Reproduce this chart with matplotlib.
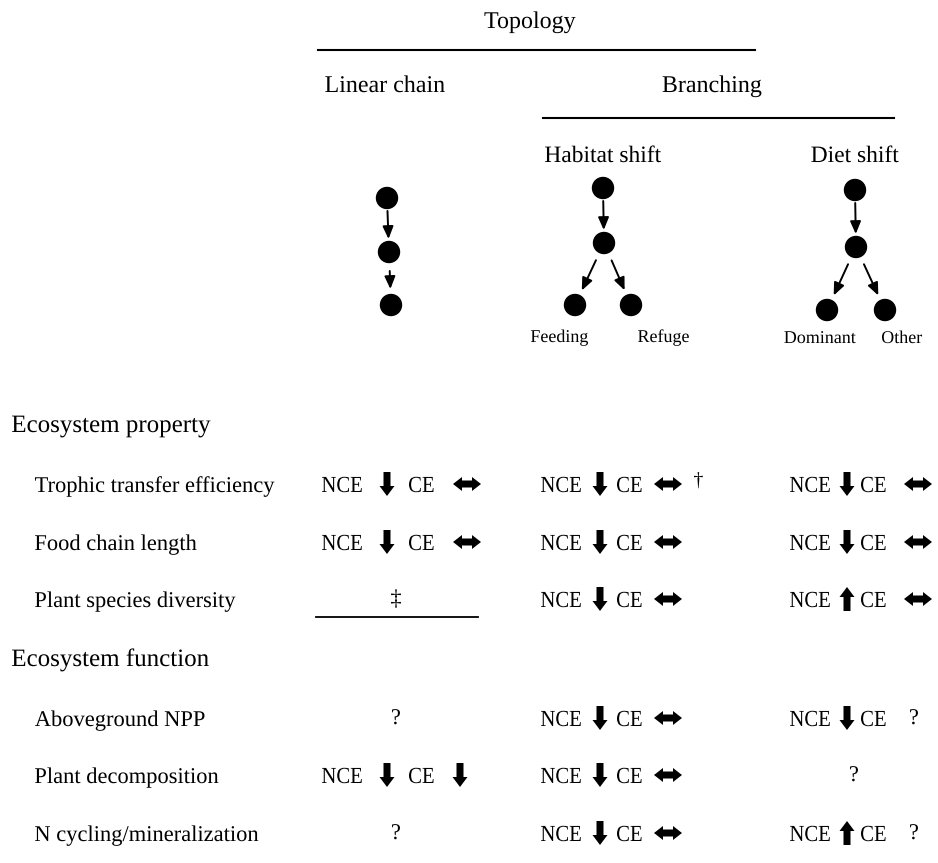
import numpy as np
import matplotlib.pyplot as plt
from matplotlib.patches import Circle, Polygon, PathPatch
from matplotlib.textpath import TextPath
from matplotlib.font_manager import FontProperties
from matplotlib.transforms import Affine2D

# Linhas da tabela
groups = ["Ecosystem property", "Ecosystem function"]
rows = ["Trophic transfer efficiency", "Food chain length", "Plant species diversity",
        "Aboveground NPP", "Plant decomposition", "N cycling/mineralization"]

# Efeitos por coluna: "NCE|CE|nota", ou símbolo isolado
linear_chain = ["down|both", "down|both", "‡", "?", "down|down", "?"]
habitat_shift = ["down|both|†", "down|both", "down|both", "down|both", "down|both", "down|both"]
diet_shift = ["down|both", "down|both", "up|both", "down|?", "?", "up|?"]

W, H = 938, 863
fig = plt.figure(figsize=(W / 100, H / 100), dpi=100)
ax = fig.add_axes([0, 0, 1, 1])
ax.set_xlim(0, W)
ax.set_ylim(H, 0)
ax.axis('off')

fp = FontProperties(family='Liberation Serif')


def txt(x, y, s, size=22.5, sx=1.0, ha='left'):
    # texto desenhado como contorno; y é a linha de base (pixels)
    p = TextPath((0, 0), s, size=size, prop=fp)
    bb = p.get_extents()
    w = (bb.x1 - bb.x0) * sx
    x0 = {'left': x, 'center': x - w / 2, 'right': x - w}[ha] - bb.x0 * sx
    p = Affine2D().scale(sx, -1).translate(x0, y).transform_path(p)
    ax.add_patch(PathPatch(p, color='black', lw=0))


def block_arrow(x, y, kind):
    if kind == 'both':
        h, w, hw, hl = 14, 7, 14, 9
        pts = [(x - h, y), (x - h + hl, y - hw / 2), (x - h + hl, y - w / 2),
               (x + h - hl, y - w / 2), (x + h - hl, y - hw / 2), (x + h, y),
               (x + h - hl, y + hw / 2), (x + h - hl, y + w / 2),
               (x - h + hl, y + w / 2), (x - h + hl, y + hw / 2)]
    else:
        h, w, hw, hl = 12, 7, 15, 10
        s = 1 if kind == 'down' else -1
        pts = [(x - w / 2, y - s * h), (x + w / 2, y - s * h),
               (x + w / 2, y + s * (h - hl)), (x + hw / 2, y + s * (h - hl)),
               (x, y + s * h), (x - hw / 2, y + s * (h - hl)),
               (x - w / 2, y + s * (h - hl))]
    ax.add_patch(Polygon(pts, closed=True, color='black', lw=0))


# Cabeçalhos
hs = 24
txt(530, 28, "Topology", hs, ha='center')
ax.plot([318, 755], [50, 50], color='black', lw=1.5)
txt(385, 92, "Linear chain", hs, ha='center')
txt(712, 92, "Branching", hs, ha='center')
ax.plot([543, 894], [118, 118], color='black', lw=1.5)
txt(603, 162, "Habitat shift", 23.5, ha='center')
txt(855, 162, "Diet shift", 23.5, ha='center')

# Redes tróficas
nets = [
    {"nodes": [(387, 198), (389, 252), (391, 305)], "edges": [(0, 1), (1, 2)]},
    {"nodes": [(603, 188), (604, 243), (575, 305), (631, 305)], "edges": [(0, 1), (1, 2), (1, 3)]},
    {"nodes": [(855, 190), (856, 247), (827, 310), (885, 310)], "edges": [(0, 1), (1, 2), (1, 3)]},
]
for net in nets:
    for (cx, cy) in net["nodes"]:
        ax.add_patch(Circle((cx, cy), 10.5, color='black'))
    for a, b in net["edges"]:
        p0 = np.array(net["nodes"][a], float)
        p1 = np.array(net["nodes"][b], float)
        d = (p1 - p0) / np.linalg.norm(p1 - p0)
        s0, s1 = (13, 13) if a == 0 else (19, 16)
        ax.annotate("", xy=p1 - d * s1, xytext=p0 + d * s0,
                    arrowprops=dict(arrowstyle='-|>,head_length=0.75,head_width=0.32',
                                    color='black', lw=1.4, shrinkA=0, shrinkB=0))

ss = 18
txt(588, 342, "Feeding", ss, ha='right')
txt(638, 342, "Refuge", ss, ha='left')
txt(820, 343, "Dominant", ss, ha='center')
txt(902, 343, "Other", ss, ha='center')

# Linhas de propriedades
group_y = [432, 666]
row_y = [492, 550, 607, 726, 783, 841]
for g, gy in zip(groups, group_y):
    txt(12, gy, g, 25)
for r, ry in zip(rows, row_y):
    txt(35, ry, r, 22.5)

# posições: NCE, seta1, CE, seta2, nota, centro
layouts = [
    dict(nce=322, a1=387, ce=409, a2=467, q=436, note=0, center=396),
    dict(nce=541, a1=600, ce=617, a2=668, q=660, note=694, center=603),
    dict(nce=790, a1=847, ce=861, a2=918, q=914, note=0, center=854),
]
columns = [linear_chain, habitat_shift, diet_shift]
sq = 0.9

for col, lay in zip(columns, layouts):
    for cell, ry in zip(col, row_y):
        parts = cell.split("|")
        if len(parts) == 1:
            txt(lay["center"], ry - 2, parts[0], 22.5, ha='center')
            if parts[0] == "‡":
                ax.plot([316, 478], [ry + 10, ry + 10], color='black', lw=1.3)
            continue
        txt(lay["nce"], ry, "NCE", 23, sq)
        block_arrow(lay["a1"], ry - 8, parts[0])
        txt(lay["ce"], ry, "CE", 23, sq)
        if parts[1] == "?":
            txt(lay["q"], ry - 2, "?", 22.5, ha='center')
        elif parts[1] == "both":
            block_arrow(lay["a2"], ry - 8, parts[1])
        else:
            block_arrow(lay["a2"] - 7, ry - 8, parts[1])
        if len(parts) > 2:
            txt(lay["note"], ry - 6, parts[2], 20)

fig.savefig("out.png", dpi=100)
